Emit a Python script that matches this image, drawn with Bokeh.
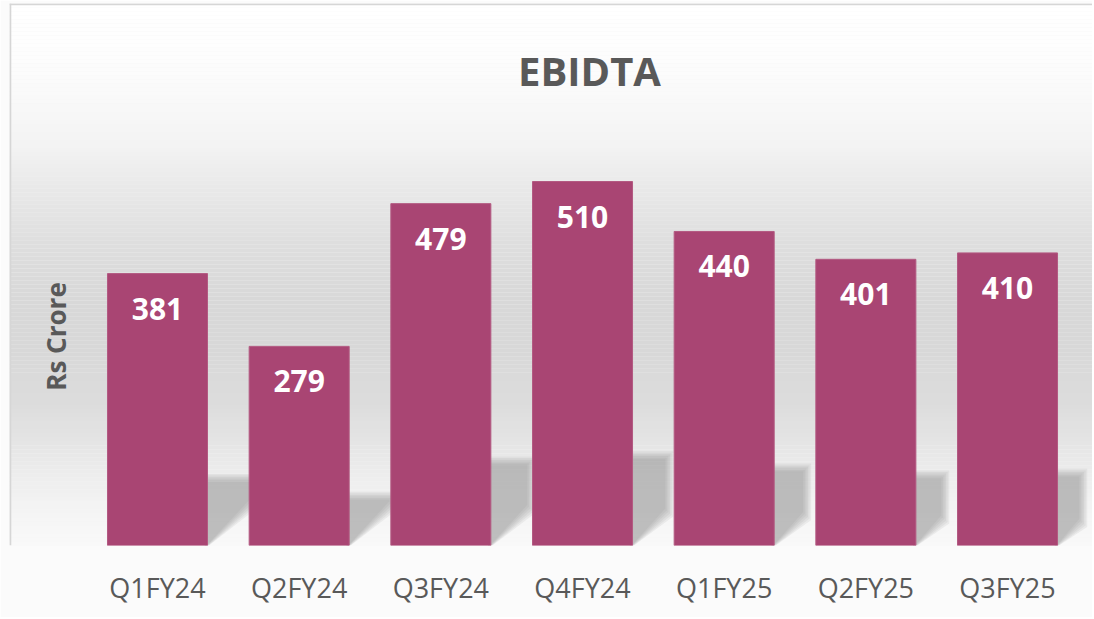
import numpy as np
from bokeh.plotting import figure
from bokeh.models import Range1d, FixedTicker, Label, Span, ColumnDataSource
from bokeh.core.properties import value
from bokeh.embed import file_html
from bokeh.resources import INLINE

# ---------------- data ----------------
categories = ["Q1FY24", "Q2FY24", "Q3FY24", "Q4FY24", "Q1FY25", "Q2FY25", "Q3FY25"]
ebitda = [381, 279, 479, 510, 440, 401, 410]
chart_title = "EBIDTA"
y_label = "Rs Crore"

# ---------------- style / layout ----------------
BAR_COLOR = "#A94573"
TEXT_GRAY = "#595959"
FONT = "Open Sans"
W, H = 1092, 617
FRAME_LEFT = 9            # page px
FRAME_TOP = 3             # page px
BASE_Y = 545              # page px of the bar base
BORDER_BOTTOM = H - BASE_Y
FRAME_W = W - FRAME_LEFT
FRAME_H = BASE_Y - FRAME_TOP
SLOT_PX = 141.67          # pixels per category slot
PX_PER_UNIT = 0.7137      # pixels per Rs crore
FIRST_CENTER_PX = 157 - FRAME_LEFT
BAR_WIDTH = 0.706

x_start = -FIRST_CENTER_PX / SLOT_PX
x_end = x_start + FRAME_W / SLOT_PX
y_end = FRAME_H / PX_PER_UNIT

p = figure(width=W, height=H, output_backend="svg", toolbar_location=None,
           x_range=Range1d(x_start, x_end), y_range=Range1d(0, y_end),
           min_border_left=FRAME_LEFT, min_border_right=0,
           min_border_top=FRAME_TOP, min_border_bottom=BORDER_BOTTOM)
p.background_fill_color = "#f4f4f4"
p.border_fill_color = "#fbfbfb"
p.outline_line_color = None
p.grid.visible = False
p.yaxis.visible = False

# ---------------- background gradient (style) ----------------
# (page y in px, grey level)
stops_y = [3, 60, 100, 150, 200, 250, 300, 350, 400, 440, 480, 520, 545]
stops_lv = [255, 253, 249, 242, 230, 221, 216, 216, 220, 228, 238, 246, 249]
n_bands = 135
edges = np.linspace(FRAME_TOP, BASE_Y, n_bands + 1)
mids = 0.5 * (edges[:-1] + edges[1:])
levels = np.interp(mids, stops_y, stops_lv).round().astype(int)
band_colors = ["#%02x%02x%02x" % (l, l, l) for l in levels]
tops = (BASE_Y - edges[:-1]) / PX_PER_UNIT
bottoms = (BASE_Y - edges[1:]) / PX_PER_UNIT
p.quad(left=x_start, right=x_end, top=tops, bottom=bottoms,
       fill_color=band_colors, line_color=None)

# ---------------- soft bar shadows (style, derived from data) ----------------
xs_idx = list(range(len(categories)))
half = BAR_WIDTH / 2
n_layers = 6
for layer in range(n_layers):
    grow = (n_layers - 1 - layer) * 1.6 - 3  # px
    gx = grow / SLOT_PX
    gy = grow / PX_PER_UNIT
    sxs, sys = [], []
    for i, v in zip(xs_idx, ebitda):
        x1 = i + half
        dx = 0.33 - 0.026 * i
        h = 0.245 * v
        rise = min(dx * SLOT_PX / PX_PER_UNIT * 0.95, h)
        sxs.append([x1 - 0.02, x1 + gx * 0.3, x1 + dx + gx, x1 + dx + gx, x1 - 0.02])
        sys.append([0, 0, rise - gy, h + gy, h + gy])
    p.patches(sxs, sys, fill_color="#8a8a8a", fill_alpha=0.11, line_color=None)

# ---------------- bars ----------------
src = ColumnDataSource(dict(x=xs_idx, v=ebitda, lab=[str(v) for v in ebitda]))
p.vbar(x="x", top="v", bottom=0, width=BAR_WIDTH, source=src,
       fill_color=BAR_COLOR, line_color="#b35a82", line_width=1)
p.text(x="x", y="v", text="lab", source=src, text_color="white",
       text_font=value(FONT), text_font_style="bold", text_font_size="30px",
       text_align="center", text_baseline="middle", y_offset=35)

# ---------------- axis ----------------
p.xaxis.ticker = FixedTicker(ticks=xs_idx)
p.xaxis.major_label_overrides = {i: c for i, c in zip(xs_idx, categories)}
p.xaxis.axis_line_color = None
p.xaxis.major_tick_line_color = None
p.xaxis.minor_tick_line_color = None
p.xaxis.major_tick_out = 0
p.xaxis.major_label_standoff = 23
p.xaxis.major_label_text_font = FONT
p.xaxis.major_label_text_font_size = "27px"
p.xaxis.major_label_text_color = TEXT_GRAY

# ---------------- title and axis label inside the chart area ----------------
title_x = 3 + 7 / SLOT_PX
title_y = (BASE_Y - 70) / PX_PER_UNIT
p.add_layout(Label(x=title_x, y=title_y, text=chart_title, text_font=FONT,
                   text_font_style="bold", text_font_size="40px",
                   text_color=TEXT_GRAY, text_align="center",
                   text_baseline="middle"))
ylab_x = x_start + (55 - FRAME_LEFT) / SLOT_PX
ylab_y = (BASE_Y - 336) / PX_PER_UNIT
p.add_layout(Label(x=ylab_x, y=ylab_y, text=y_label, text_font=FONT,
                   text_font_style="bold", text_font_size="26px",
                   text_color=TEXT_GRAY, text_align="center",
                   text_baseline="middle", angle=np.pi / 2))

# ---------------- chart border (left and top) ----------------
p.add_layout(Span(location=x_start + 0.8 / SLOT_PX, dimension="height",
                  line_color="#d6d6d6", line_width=2))
p.add_layout(Span(location=y_end - 0.8 / PX_PER_UNIT, dimension="width",
                  line_color="#d6d6d6", line_width=2))

open("out.html", "w").write(file_html(p, INLINE))
